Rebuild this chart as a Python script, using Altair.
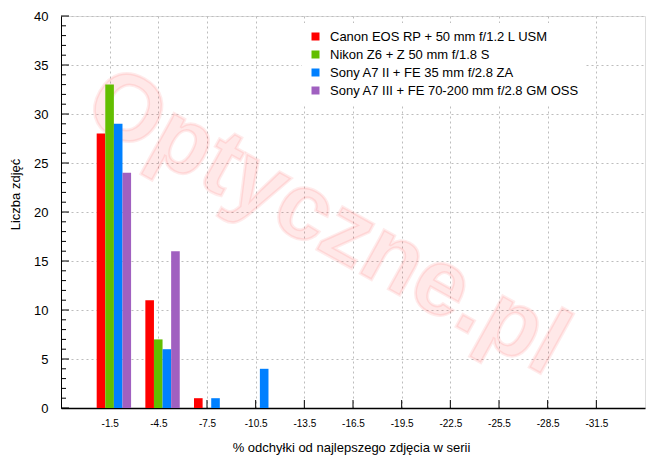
import altair as alt
import pandas as pd

# ---- data ----
bins = [-1.5, -4.5, -7.5, -10.5, -13.5, -16.5, -19.5, -22.5, -25.5, -28.5, -31.5]
series_names = [
    "Canon EOS RP + 50 mm f/1.2 L USM",
    "Nikon Z6 + Z 50 mm f/1.8 S",
    "Sony A7 II + FE 35 mm f/2.8 ZA",
    "Sony A7 III + FE 70-200 mm f/2.8 GM OSS",
]
canon = [28, 11, 1, 0, 0, 0, 0, 0, 0, 0, 0]
nikon = [33, 7, 0, 0, 0, 0, 0, 0, 0, 0, 0]
sony_a7ii = [29, 6, 1, 4, 0, 0, 0, 0, 0, 0, 0]
sony_a7iii = [24, 16, 0, 0, 0, 0, 0, 0, 0, 0, 0]
colors = ["#ff0000", "#63be00", "#0080ff", "#a060c0"]
y_major = [0, 5, 10, 15, 20, 25, 30, 35, 40]
y_minor = [v for v in range(0, 41) if v % 5 != 0]

rows = []
for k, (name, vals) in enumerate(zip(series_names, [canon, nikon, sony_a7ii, sony_a7iii])):
    for b, v in zip(bins, vals):
        rows.append({"bin": b, "count": v, "series": name, "k": k})
df = pd.DataFrame(rows)

FONT = "Liberation Sans"
GRID = "#bdbdbd"

xscale = alt.Scale(domain=[1.5, -34.5], nice=False, zero=False)
yscale = alt.Scale(domain=[0, 40], nice=False)

xaxis = alt.Axis(
    values=bins, labelExpr="'' + datum.value",
    title="% odchyłki od najlepszego zdjęcia w serii",
    grid=True, gridDash=[2, 3], gridColor=GRID, gridWidth=1,
    ticks=False, labelPadding=10, labelFontSize=10, labelBaseline="top",
    labelFont=FONT, labelColor="black",
    titleFont=FONT, titleFontSize=13, titleFontWeight="normal", titleColor="black",
    titleX=290, titleY=43, titleBaseline="alphabetic", titleAlign="center",
    domainColor="black", domainWidth=1.5,
)
yaxis = alt.Axis(
    values=y_major, format="d", title="Liczba zdjęć",
    grid=True, gridDash=[2, 3], gridColor=GRID, gridWidth=1,
    ticks=False, labelPadding=13, labelFontSize=13, labelFont=FONT, labelColor="black",
    titleFont=FONT, titleFontSize=13, titleFontWeight="normal", titleColor="black",
    titleAngle=-90, titleX=-42, titleY=178, titleBaseline="alphabetic", titleAlign="center",
    domainColor="black", domainWidth=1,
)

watermark = alt.Chart(alt.Data(values=[{"t": "Optyczne.pl"}])).mark_text(
    font=FONT, fontSize=94, fontWeight="bold", angle=29,
    fill="#ff0000", fillOpacity=0.09, stroke="#ff0000", strokeOpacity=0.08, strokeWidth=3,
    align="center", baseline="middle",
).encode(text="t:N", x=alt.value(266), y=alt.value(207))

xticks = alt.Chart(pd.DataFrame({"bin": bins})).mark_rule(color="black", strokeWidth=1).encode(
    x=alt.X("bin:Q", scale=xscale, axis=xaxis),
    y=alt.value(392), y2=alt.value(384),
)

bars = alt.Chart(df).transform_filter("datum.count > 0").transform_calculate(
    x0="datum.bin + 0.80 - 0.53 * datum.k",
    x1="datum.bin + 0.80 - 0.53 * (datum.k + 1)",
).mark_bar(stroke=None).encode(
    x=alt.X("x0:Q", scale=xscale, axis=xaxis),
    x2="x1:Q",
    y=alt.Y("count:Q", scale=yscale, axis=yaxis),
    y2=alt.datum(0),
    color=alt.Color(
        "series:N",
        scale=alt.Scale(domain=series_names, range=colors),
        legend=alt.Legend(
            title=None, orient="none", legendX=241, legendY=7,
            symbolType="square", symbolSize=64, symbolStrokeWidth=0,
            labelFont=FONT, labelFontSize=13, labelColor="black",
            labelOffset=8, rowPadding=4, padding=7, fillColor="white",
            labelLimit=400,
        ),
    ),
)

yminor = alt.Chart(pd.DataFrame({"tick": y_minor})).mark_rule(color="black", strokeWidth=1).encode(
    y=alt.Y("tick:Q", scale=yscale, axis=yaxis),
    x=alt.value(0), x2=alt.value(5),
)
ymajor = alt.Chart(pd.DataFrame({"tick": y_major})).mark_rule(color="black", strokeWidth=1).encode(
    y=alt.Y("tick:Q", scale=yscale, axis=yaxis),
    x=alt.value(0), x2=alt.value(8),
)

chart = alt.layer(watermark, xticks, bars, yminor, ymajor).properties(
    width=584, height=392,
    autosize=alt.AutoSizeParams(type="none"),
    padding={"left": 53, "top": 8, "right": 10, "bottom": 52},
).configure_view(stroke="black", strokeWidth=1).configure(background="white")

chart.save("out.html", embed_options={"renderer": "svg", "actions": False})
